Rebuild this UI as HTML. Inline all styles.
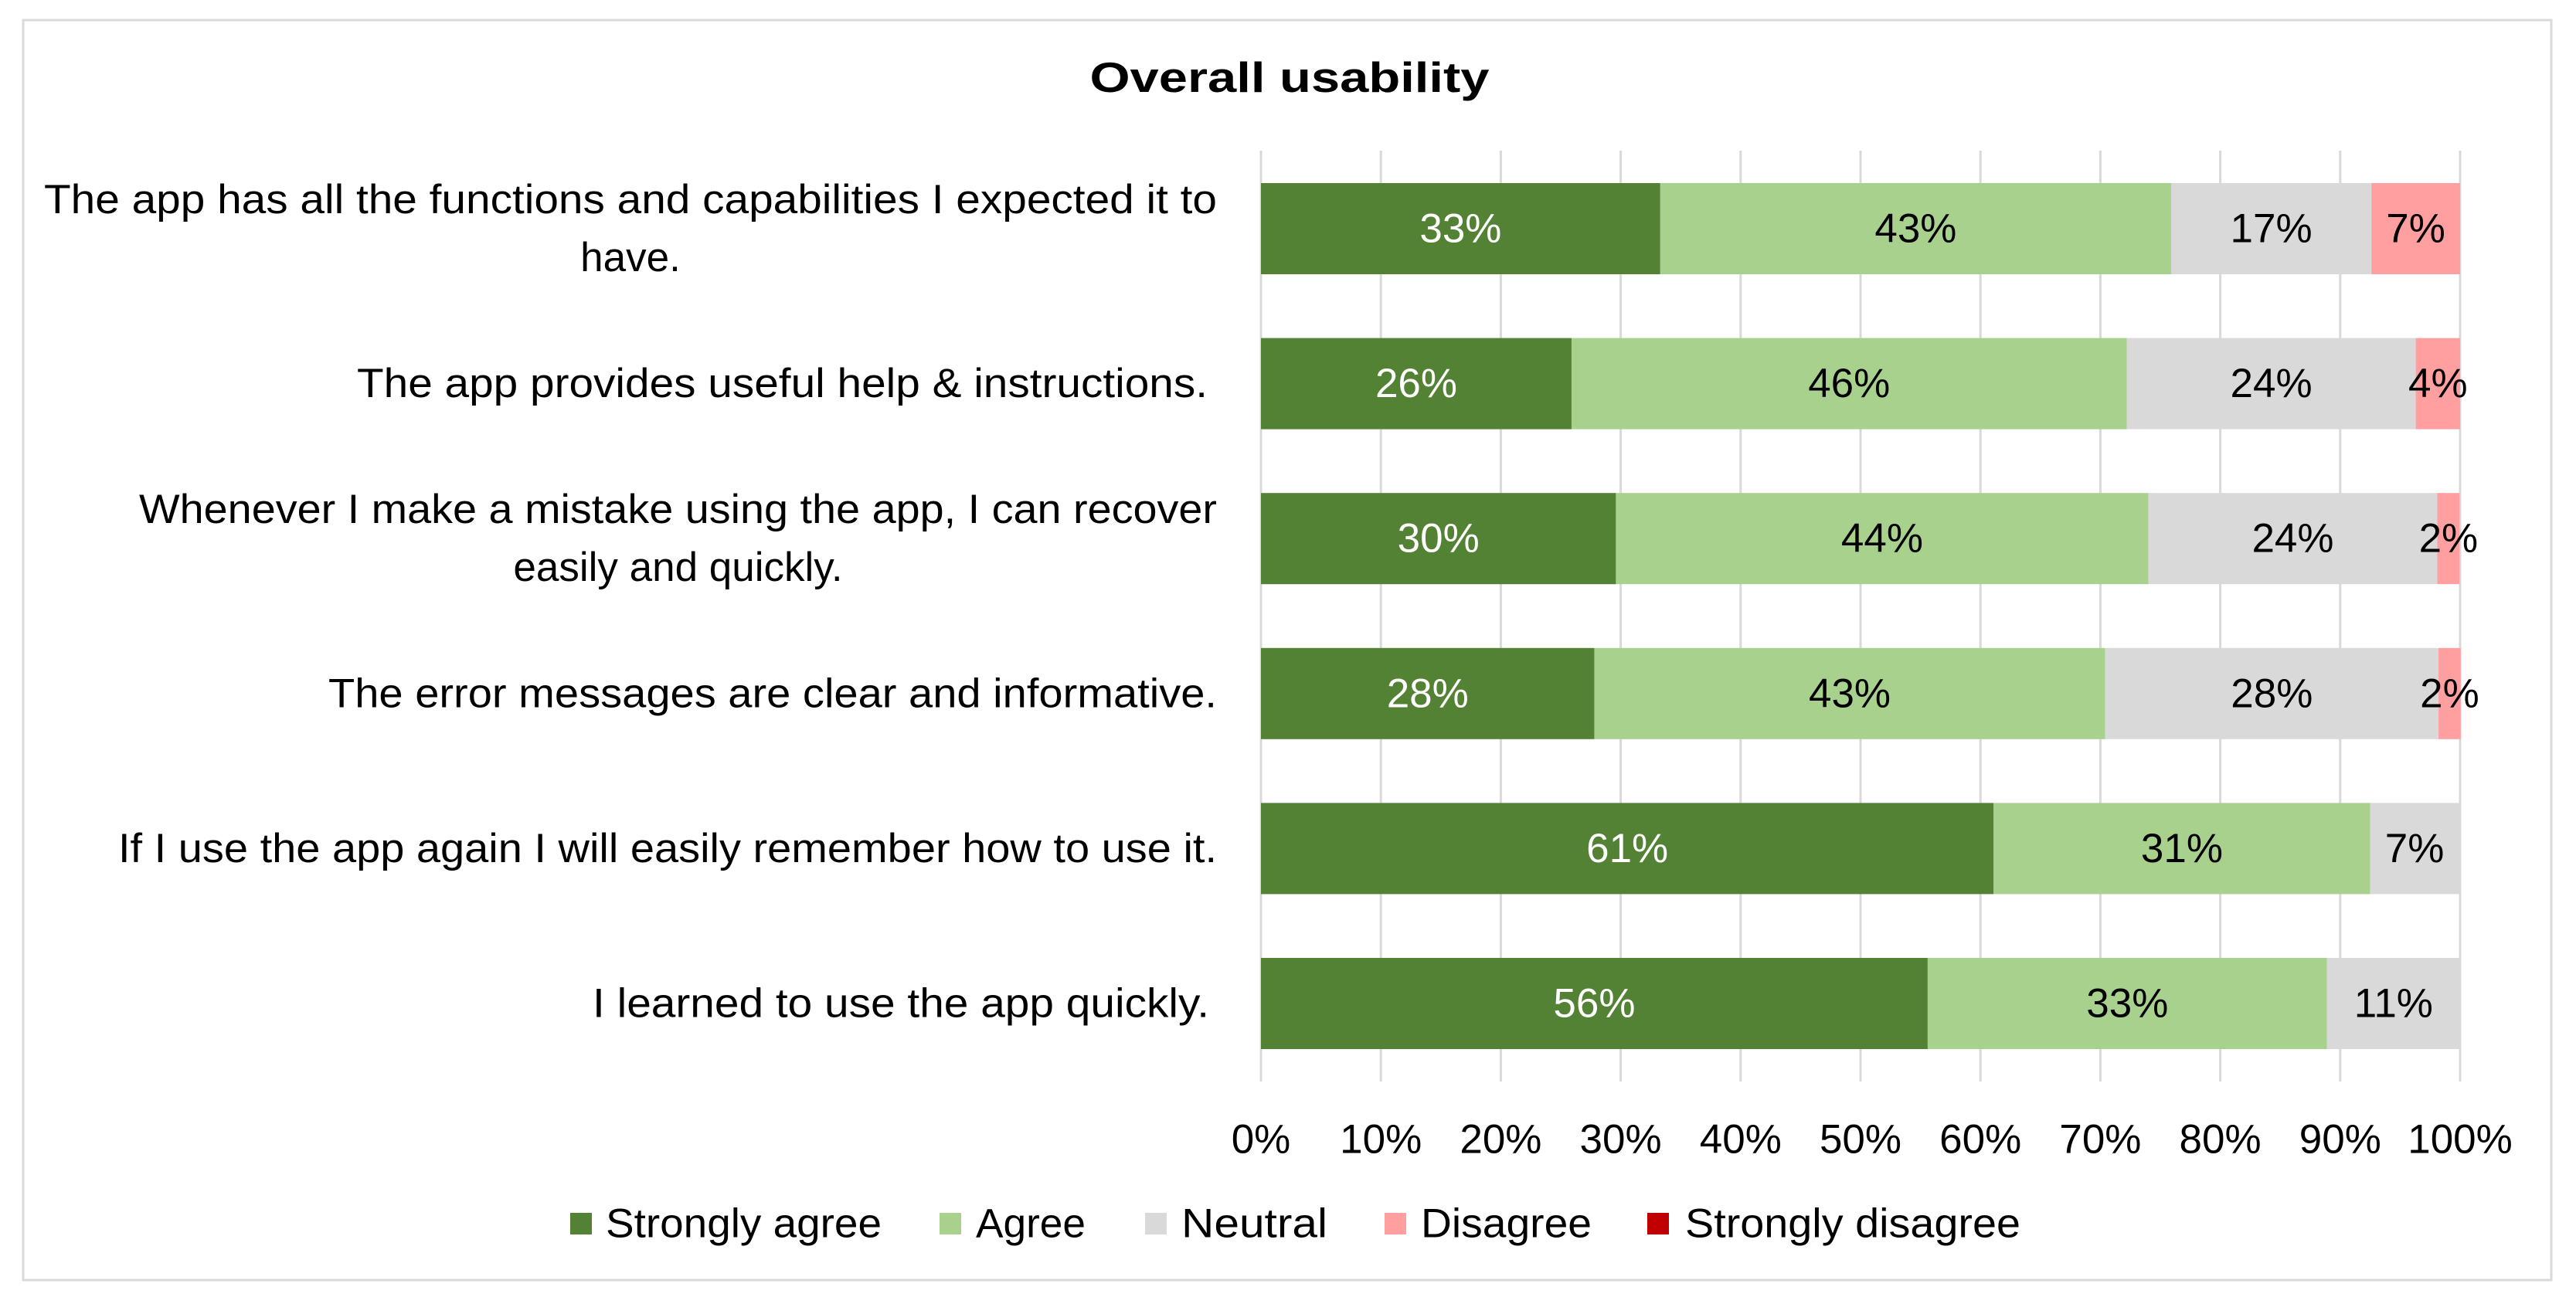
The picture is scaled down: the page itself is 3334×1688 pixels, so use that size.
<!DOCTYPE html>
<html><head><meta charset="utf-8"><style>
html,body{margin:0;padding:0;background:#fff;}
svg{display:block;font-family:"Liberation Sans",sans-serif;}
</style></head><body>
<svg id="chart" width="3334" height="1688" viewBox="0 0 3334 1688">
<rect x="30" y="26" width="3272" height="1631" fill="#fff" stroke="#d9d9d9" stroke-width="3"/>
<text x="1669" y="100" text-anchor="middle" dominant-baseline="central" font-size="55" font-weight="bold" textLength="517" lengthAdjust="spacingAndGlyphs">Overall usability</text>
<g id="grid"></g><g id="bars"></g><g id="cats"></g><g id="ticks"></g><g id="legend"></g>
</svg>
<script>
const categories = [
  ["The app has all the functions and capabilities I expected it to","have."],
  ["The app provides useful help & instructions."],
  ["Whenever I make a mistake using the app, I can recover","easily and quickly."],
  ["The error messages are clear and informative."],
  ["If I use the app again I will easily remember how to use it."],
  ["I learned to use the app quickly."]
];
const seriesNames = ["Strongly agree","Agree","Neutral","Disagree","Strongly disagree"];
const stronglyAgree = [33.3,25.9,29.6,27.8,61.1,55.6];
const agree = [42.6,46.3,44.4,42.6,31.4,33.3];
const neutral = [16.7,24.1,24.1,27.8,7.4,11.1];
const disagree = [7.4,3.7,1.85,1.85,0,0];
const stronglyDisagree = [0,0,0,0,0,0];
const tickValues = [0,10,20,30,40,50,60,70,80,90,100];
const tickLabels = ["0%","10%","20%","30%","40%","50%","60%","70%","80%","90%","100%"];

const NS="http://www.w3.org/2000/svg";
const X0=1632, X1=3184, TOP=195, BOT=1400;
const x = v => X0 + (X1-X0)*v/100;
const rowCenter = i => 296 + i*200.6;
const BAR_H = 118;
const FS = 53;
const colors = ["#548235","#A9D18E","#D9D9D9","#FF9F9F","#C00000"];
const textColors = ["#fff","#000","#000","#000","#fff"];
const series = [stronglyAgree,agree,neutral,disagree,stronglyDisagree];
function mk(tag, attrs, parent){const e=document.createElementNS(NS,tag);for(const k in attrs)e.setAttribute(k,attrs[k]);parent.appendChild(e);return e;}

const grid=document.getElementById('grid');
tickValues.forEach(v=>{
  const l=mk('line',{x1:x(v),x2:x(v),y1:TOP,y2:BOT,stroke:'#d9d9d9','stroke-width':3},grid);
  
  
});
const ticks=document.getElementById('ticks');
tickValues.forEach((v,i)=>{
  const t=mk('text',{x:x(v),y:1475,'text-anchor':'middle','dominant-baseline':'central','font-size':FS},ticks);
  t.textContent=tickLabels[i];
  
  
});
const bars=document.getElementById('bars');
categories.forEach((c,i)=>{
  let acc=0;
  const cy=rowCenter(i);
  series.forEach((s,j)=>{
    const v=s[i];
    if(v>0){
      const r=mk('rect',{x:x(acc),y:cy-BAR_H/2,width:x(acc+v)-x(acc),height:BAR_H,fill:colors[j]},bars);
      
      
      const t=mk('text',{x:(x(acc)+x(acc+v))/2,y:cy,'text-anchor':'middle','dominant-baseline':'central','font-size':FS,fill:textColors[j]},bars);
      t.textContent=Math.round(v)+'%';
      
      
    }
    acc+=v;
  });
});
const lineWidths=[[1518,null],[1101],[1395,null],[1150],[1422],[798]];
const cats=document.getElementById('cats');
categories.forEach((lines,i)=>{
  const cy=rowCenter(i);
  const n=lines.length;
  const blockRight=[1575,1563,1575,1575,1575,1565][i];
  const w0=lineWidths[i][0];
  const center=blockRight-w0/2;
  lines.forEach((ln,k)=>{
    const y=cy+(k-(n-1)/2)*75;
    const attrs={x:center,y:y,'text-anchor':'middle','dominant-baseline':'central','font-size':FS};
    if(lineWidths[i][k]){attrs.textLength=lineWidths[i][k];attrs.lengthAdjust='spacingAndGlyphs';}
    const t=mk('text',attrs,cats);
    t.textContent=ln;
    
    
  });
});
const legend=document.getElementById('legend');
const legSq=[738,1216,1482,1792,2132];
const legTx=[784,1263,1529,1839,2181];
const legW=[357,142,189,221,434];
seriesNames.forEach((n,j)=>{
  const g=mk('g',{},legend);
  
  
  mk('rect',{x:legSq[j],y:1570,width:28,height:28,fill:colors[j]},g);
  const t=mk('text',{x:legTx[j],y:1584,'dominant-baseline':'central','font-size':FS,textLength:legW[j],lengthAdjust:'spacingAndGlyphs'},g);
  t.textContent=n;
});
</script>
</body></html>
